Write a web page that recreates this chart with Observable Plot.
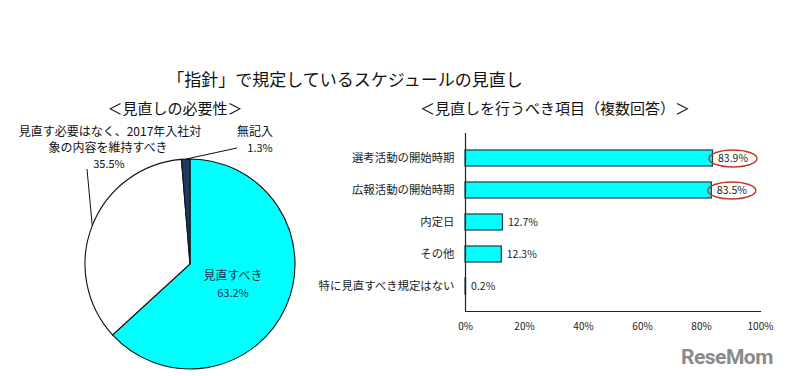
<!DOCTYPE html>
<html><head><meta charset="utf-8">
<script src="https://cdn.jsdelivr.net/npm/d3@7"></script>
<script src="https://cdn.jsdelivr.net/npm/@observablehq/plot@0.6"></script>
<style>
body{margin:0;background:#fff;font-family:"Noto Sans CJK JP","Noto Sans",sans-serif;}
#wrap{position:relative;width:787px;height:376px;overflow:hidden;}
#wrap svg{position:absolute;left:0;top:0;}
</style></head><body>
<div id="wrap"></div>
<script>
// ---- data ----
const pieLabels = ["見直すべき", "見直す必要はなく、2017年入社対象の内容を維持すべき", "無記入"];
const pieValues = [63.2, 35.5, 1.3];
const pieColors = ["#00FFFF", "#FFFFFF", "#1F3864"];

const barCategories = ["選考活動の開始時期", "広報活動の開始時期", "内定日", "その他", "特に見直すべき規定はない"];
const barValues = [83.9, 83.5, 12.7, 12.3, 0.2];
const highlighted = ["選考活動の開始時期", "広報活動の開始時期"];
const xTicks = [0, 20, 40, 60, 80, 100];

const title = "「指針」で規定しているスケジュールの見直し";
const leftSubtitle = "＜見直しの必要性＞";
const rightSubtitle = "＜見直しを行うべき項目（複数回答）＞";

const W = 787, H = 376;
const font = '"Noto Sans CJK JP", sans-serif';
const barData = barCategories.map((c, i) => ({cat: c, value: barValues[i]}));

// ellipse symbol
const ellipse = {draw(ctx) {
  const rx = 24, ry = 8.5, k = 0.5523;
  ctx.moveTo(rx, 0);
  ctx.bezierCurveTo(rx, ry * k, rx * k, ry, 0, ry);
  ctx.bezierCurveTo(-rx * k, ry, -rx, ry * k, -rx, 0);
  ctx.bezierCurveTo(-rx, -ry * k, -rx * k, -ry, 0, -ry);
  ctx.bezierCurveTo(rx * k, -ry, rx, -ry * k, rx, 0);
  ctx.closePath();
}};

const bar = Plot.plot({
  width: W, height: H,
  marginLeft: 465, marginRight: 27, marginTop: 133, marginBottom: 65,
  style: {fontFamily: font, fontSize: "10.5px", color: "#222", background: "transparent"},
  x: {domain: [0, 100]},
  y: {domain: barCategories, padding: 0.49},
  marks: [
    Plot.barX(barData, {x: "value", y: "cat", fill: "#00FFFF", stroke: "#1B3B4B", strokeWidth: 1.2}),
    Plot.ruleX([0], {stroke: "#222", strokeWidth: 1.2}),
    Plot.frame({anchor: "bottom", stroke: "#222", strokeWidth: 1.2}),
    Plot.axisX({ticks: xTicks, tickFormat: d => d + "%", tickSize: 0, tickPadding: 11, fontSize: 10, label: null}),
    Plot.axisY({tickSize: 0, tickPadding: 11, fontSize: 11.4, label: null}),
    Plot.text(barData, {x: "value", y: "cat", text: d => d.value.toFixed(1) + "%", dx: 5, textAnchor: "start", fontSize: 10.5, fill: "#222"}),
    Plot.dot(barData.filter(d => highlighted.includes(d.cat)), {x: "value", y: "cat", dx: 20, symbol: ellipse, stroke: "#C0392B", strokeWidth: 1.4, fill: "none"})
  ]
});
document.getElementById("wrap").appendChild(bar);

// ---- pie & texts ----
const svg = d3.select("#wrap").append("svg").attr("width", W).attr("height", H);
const cx = 190, cy = 264, R = 105;
const arcs = d3.pie().sort(null).value(d => d)(pieValues);
const arc = d3.arc().innerRadius(0).outerRadius(R);
const g = svg.append("g").attr("transform", `translate(${cx},${cy})`);
g.selectAll("path").data(arcs).join("path")
  .attr("d", arc).attr("fill", (d, i) => pieColors[i])
  .attr("stroke", "#111").attr("stroke-width", 1.1);

const pt = (a, r) => [Math.sin(a) * r, -Math.cos(a) * r];

// inside label for slice 0
g.append("text").attr("x", 43).attr("y", 16).attr("text-anchor", "middle")
  .attr("font-size", 12).attr("fill", "#1F2F4F").attr("font-family", font).text(pieLabels[0]);
g.append("text").attr("x", 43).attr("y", 33).attr("text-anchor", "middle")
  .attr("font-size", 11).attr("fill", "#1F2F4F").attr("font-family", font).text(pieValues[0].toFixed(1) + "%");

// leader for slice 1 (white)
const a1 = arcs[1].startAngle + (arcs[1].endAngle - arcs[1].startAngle) * 0.5;
const p1 = pt(a1, R);
g.append("line").attr("x1", p1[0]).attr("y1", p1[1]).attr("x2", 87 - cx).attr("y2", 169 - cy)
  .attr("stroke", "#111").attr("stroke-width", 1);
// leader for slice 2 (navy)
const a2 = (arcs[2].startAngle + arcs[2].endAngle) / 2;
const p2 = pt(a2, R);
g.append("line").attr("x1", p2[0]).attr("y1", p2[1]).attr("x2", 237 - cx).attr("y2", 148 - cy)
  .attr("stroke", "#111").attr("stroke-width", 1);

function txt(x, y, s, size, anchor = "middle", weight = "normal") {
  svg.append("text").attr("x", x).attr("y", y).attr("text-anchor", anchor)
    .attr("font-size", size).attr("font-weight", weight).attr("fill", "#111")
    .attr("font-family", font).text(s);
}
txt(110, 136, "見直す必要はなく、2017年入社対", 12);
txt(108, 152, "象の内容を維持すべき", 12);
txt(109, 168, pieValues[1].toFixed(1) + "%", 11);
txt(255, 136, pieLabels[2], 12);
txt(260, 152, pieValues[2].toFixed(1) + "%", 11);

txt(345, 86, title, 17);
txt(175, 114, leftSubtitle, 15);
txt(555, 114, rightSubtitle, 15);

// watermark
svg.append("text").attr("x", 681).attr("y", 364).attr("font-size", 21).attr("font-weight", "bold")
  .attr("fill", "#8a8a8a").attr("font-family", "Roboto, sans-serif").attr("letter-spacing", -0.5).text("ReseMom");
</script>
</body></html>
